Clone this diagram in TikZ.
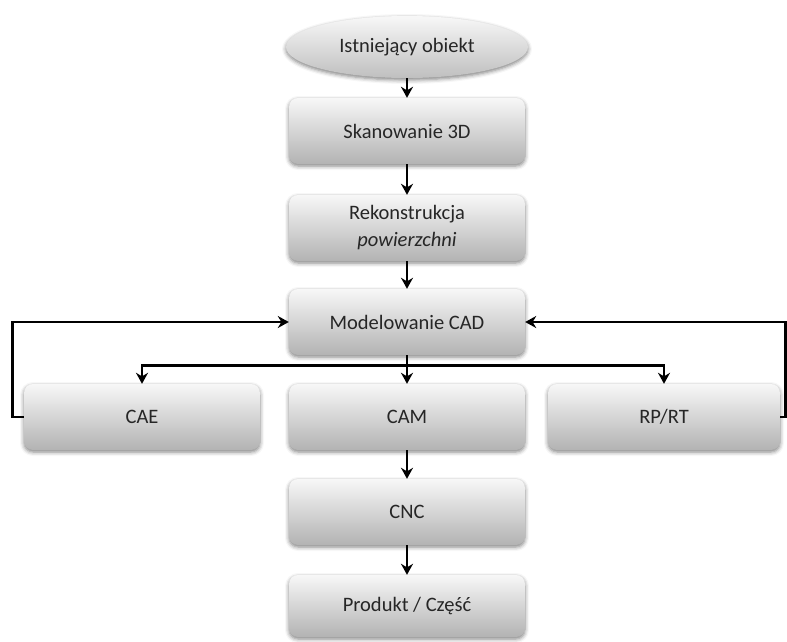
\documentclass[tikz,border=0pt]{standalone}
\usepackage{fontspec}
\setmainfont{Carlito}
\usepackage{tikz}
\usetikzlibrary{shapes.geometric, arrows.meta, shadows.blur}

\tikzset{
    procbox/.style={rectangle, rounded corners=9pt, minimum width=236pt, minimum height=66pt,
        top color=gray!6, bottom color=gray!60, draw=none, align=center,
        blur shadow={shadow xshift=0pt, shadow yshift=-2pt, shadow blur radius=4pt, shadow opacity=50},
        font=\fontsize{20.5}{27}\selectfont, text=black!85},
    startell/.style={ellipse, minimum width=242pt, minimum height=62pt,
        top color=gray!6, bottom color=gray!50, draw=none,
        blur shadow={shadow xshift=0pt, shadow yshift=-2pt, shadow blur radius=4pt, shadow opacity=50},
        font=\fontsize{20.5}{24}\selectfont, text=black!85},
    flow/.style={-{Stealth[length=11pt,width=12pt]}, line width=2.7pt},
}

\begin{document}
\begin{tikzpicture}[x=1pt, y=-1pt]
    \useasboundingbox (0,0) rectangle (787,641);

    % Main chain
    \node[startell] (obj) at (407,47) {Istniejący obiekt};
    \node[procbox] (scan) at (407,131) {Skanowanie 3D};
    \node[procbox] (rek) at (407,228) {Rekonstrukcja\\\textit{powierzchni}};
    \node[procbox] (cad) at (407,322) {Modelowanie CAD};

    % Branches
    \node[procbox] (cae) at (142,417) {CAE};
    \node[procbox] (cam) at (407,417) {CAM};
    \node[procbox, minimum width=232pt] (rp) at (664,417) {RP/RT};

    % Machining
    \node[procbox] (cnc) at (407,512) {CNC};
    \node[procbox, minimum height=62pt] (prod) at (407,606) {Produkt / Część};

    % Arrows down
    \draw[flow] (obj) -- (scan);
    \draw[flow] (scan) -- (rek);
    \draw[flow] (rek) -- (cad);
    \draw[flow] (cad) -- (cam);
    \draw[flow] (cam) -- (cnc);
    \draw[flow] (cnc) -- (prod);

    % Split to CAE and RP/RT
    \draw[flow] (cad.south) -- ++(0,10) -| (cae.north);
    \draw[flow] (cad.south) -- ++(0,10) -| (rp.north);

    % Feedback loops
    \draw[flow] (cae.west) -- ++(-11,0) |- (cad.west);
    \draw[flow] (rp.east) -- ++(5,0) |- (cad.east);
\end{tikzpicture}
\end{document}
